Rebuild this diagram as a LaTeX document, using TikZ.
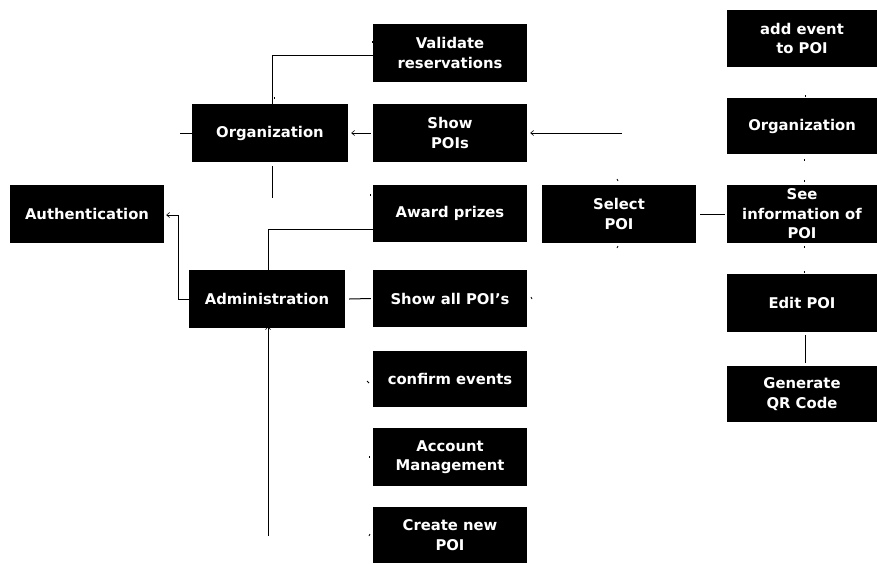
\documentclass[tikz,border=0pt]{standalone}
\usepackage{fontspec}
\setmainfont{DejaVu Sans}
\usetikzlibrary{arrows.meta}
\begin{document}
\begin{tikzpicture}[x=1pt,y=-1pt,
  box/.style={fill=black, draw=none, text=white, inner sep=0pt, align=center,
    font=\bfseries\fontsize{14.8}{19.5}\selectfont},
  wire/.style={line width=1pt, draw=black},
  tip/.style={-{Straight Barb[length=3pt,width=5pt,line width=0.6pt]}},
  stub/.style={line width=0.8pt, draw=black}]
\useasboundingbox (0,0) rectangle (877,563);

% left column
\node[box, minimum width=154, minimum height=58] (auth)   at (87,214)    {Authentication};
\node[box, minimum width=156, minimum height=58] (org)    at (270,133)   {Organization};
\node[box, minimum width=156, minimum height=58] (admin)  at (267,299)   {Administration};

% middle column
\node[box, minimum width=154, minimum height=58] (valid)  at (450,53)    {Validate\\reservations};
\node[box, minimum width=154, minimum height=58] (showp)  at (450,133)   {Show\\POIs};
\node[box, minimum width=154, minimum height=57] (award)  at (450,213.5) {Award prizes};
\node[box, minimum width=154, minimum height=57] (showall) at (450,298.5) {Show all POI's};
\node[box, minimum width=154, minimum height=56] (confirm) at (450,379)  {confirm events};
\node[box, minimum width=154, minimum height=58] (account) at (450,457)  {Account\\Management};
\node[box, minimum width=154, minimum height=56] (create) at (450,535)   {Create new\\POI};

% Select POI
\node[box, minimum width=154, minimum height=58] (select) at (619,214)   {Select\\POI};

% right column
\node[box, minimum width=150, minimum height=57] (addev)  at (802,38.5)  {add event\\to POI};
\node[box, minimum width=150, minimum height=56] (orgr)   at (802,126)   {Organization};
\node[box, minimum width=150, minimum height=58] (seeinfo) at (802,214)  {See\\information of\\POI};
\node[box, minimum width=150, minimum height=58] (edit)   at (802,303)   {Edit POI};
\node[box, minimum width=150, minimum height=56] (qr)     at (802,394)   {Generate\\QR Code};

% free ends of the connectors
\coordinate (orgW)   at (180,133);
\coordinate (showE)  at (622,133);
\coordinate (orgS1)  at (272,166);
\coordinate (orgS2)  at (272,198);
\coordinate (adminS) at (268,536);

% Organization branch
\draw[wire] (valid.west |- 0,55) -- (272,55) -- (org.north -| 272,0);
\draw[wire] (orgW) -- (org.west);
\draw[wire, tip] (showp.west) ++(-2,0) -- ([xshift=3pt]org.east);
\draw[wire, tip] (showE) -- ([xshift=3pt]showp.east);
\draw[wire] (orgS1) -- (orgS2);

% Administration branch
\draw[wire] (award.west |- 0,229) -- (268,229) -- (admin.north -| 268,0);
\draw[wire, tip] (admin.west) -- (178,299) -- (178,215) -- ([xshift=2pt]auth.east |- 0,215);
\draw[wire] ([xshift=4pt]admin.east) -- ([xshift=-2pt]showall.west);
\draw[wire, tip] (adminS) -- ([yshift=2pt]admin.south -| 268,0);

% Select POI and the right column
\draw[wire] ([xshift=4pt]select.east) -- ([xshift=-2pt]seeinfo.west);
\draw[wire] (805,335) -- (805,363);

% short arrow stubs
\draw[stub] (274,97) -- (274,99);
\draw[stub] (372,41) -- (372,43);
\draw[stub] (370,194) -- (370,196);
\draw[stub] (531,297) -- (532,299);
\draw[stub] (367,381) -- (369,383);
\draw[stub] (369,456) -- (369,458);
\draw[stub] (369,536) -- (370,534);
\draw[stub] (617,179) -- (618,181);
\draw[stub] (618,246) -- (617,248);
\draw[stub] (805,95) -- (805,97);
\draw[stub] (804,159) -- (804,161);
\draw[stub] (804,180) -- (804,182);
\draw[stub] (804,246) -- (804,248);
\draw[stub] (804,271) -- (804,273);
\end{tikzpicture}
\end{document}
